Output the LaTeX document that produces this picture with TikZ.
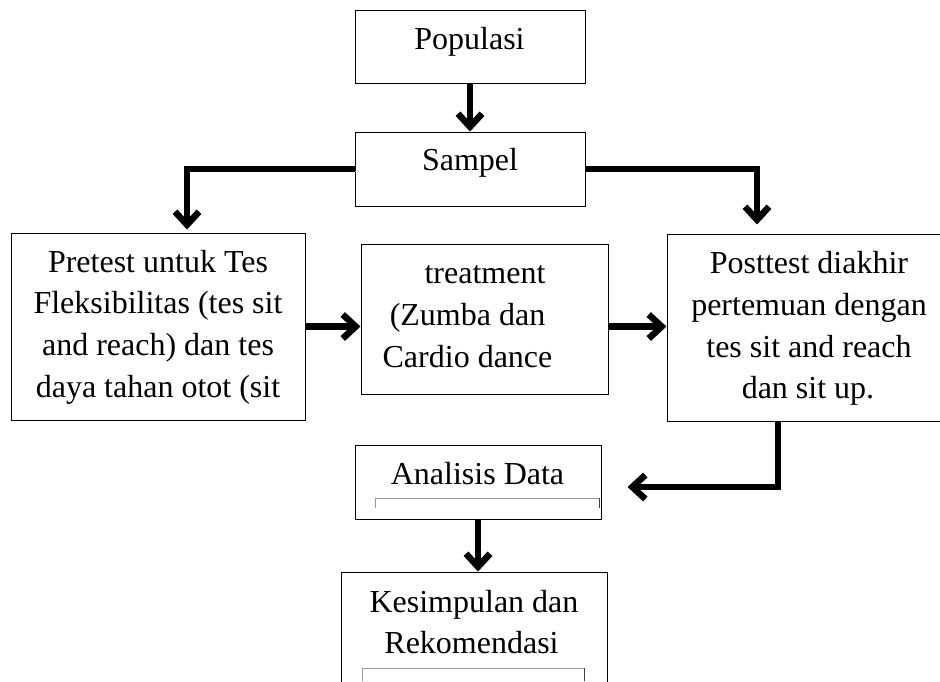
\documentclass[tikz,border=0pt]{standalone}
\usepackage{fontspec}
\setmainfont{Liberation Serif}
\usetikzlibrary{arrows.meta,calc}
\begin{document}
\begin{tikzpicture}[x=1pt,y=-1pt,
  box/.style={draw=black, line width=1pt, rectangle, inner sep=0pt},
  txt/.style={anchor=base, inner sep=0pt, font=\fontsize{32}{40}\selectfont},
  arr/.style={line width=6.5pt, line join=miter,
    -{Straight Barb[length=13pt,width=24pt]},
    preaction={draw=black!20, transform canvas={shift={(2pt,-2.5pt)}}}},
  thinline/.style={draw=black!40, line width=0.8pt}]
\useasboundingbox (0,0) rectangle (940,681);
\clip (0,0) rectangle (940,681);

% boxes
\node[box, minimum width=230pt, minimum height=73pt] (pop) at (470,46.5) {};
\node[box, minimum width=230pt, minimum height=74pt] (samp) at (470,169) {};
\node[box, minimum width=294pt, minimum height=187pt] (pre) at (158,326.5) {};
\node[box, minimum width=247pt, minimum height=150pt] (treat) at (484.5,319) {};
\node[box, minimum width=284pt, minimum height=187pt] (post) at (809,327.5) {};
\node[box, minimum width=246pt, minimum height=74pt] (ana) at (478,482) {};
\node[box, minimum width=266pt, minimum height=128pt] (kes) at (474,636) {};

% texts
\node[txt] (popT) at (469.5,49) {Populasi};
\node[txt] (sampT) at (470,170) {Sampel};
\node[txt] (pre1) at (158,272) {Pretest untuk Tes};
\node[txt] (pre2) at (158,313.7) {Fleksibilitas (tes sit};
\node[txt] (pre3) at (158,355.3) {and reach) dan tes};
\node[txt] (pre4) at (158,397) {daya tahan otot (sit};
\node[txt] (tr1) at (485,283) {treatment};
\node[txt] (tr2) at (467.5,325) {(Zumba dan};
\node[txt] (tr3) at (467.5,367) {Cardio dance};
\node[txt] (po1) at (809,273) {Posttest diakhir};
\node[txt] (po2) at (809,315) {pertemuan dengan};
\node[txt] (po3) at (809,357) {tes sit and reach};
\node[txt] (po4) at (808,398) {dan sit up.};
\node[txt] (anaT) at (477.5,484) {Analisis Data};
\node[txt] (kes1) at (474,612) {Kesimpulan dan};
\node[txt] (kes2) at (471.5,653) {Rekomendasi};

% faint inner lines
\draw[thinline] (375,508) -- (375,498) -- (599,498);
\draw[black!75, line width=1pt] (599,498) -- (599,508);
\draw[thinline] (362,681) -- (362,668) -- (584,668);
\draw[black!75, line width=1pt] (584,668) -- (584,681);

% connectors
\draw[arr] (pop.south) -- (samp.north);
\draw[arr, shorten >=3pt] (samp.west) -| ($(pre.north)+(29,0)$);
\draw[arr, shorten >=9pt] (samp.east) -| ($(post.north)+(-52,0)$);
\draw[arr] (pre.east) -- (pre.east -| treat.west);
\draw[arr] (pre.east -| treat.east) -- (pre.east -| post.west);
\draw[arr] ($(post.south)+(-31,0)$) |- ($(ana.east)+(26,5)$);
\draw[arr] (ana.south) -- (ana.south |- kes.north);
\end{tikzpicture}
\end{document}
